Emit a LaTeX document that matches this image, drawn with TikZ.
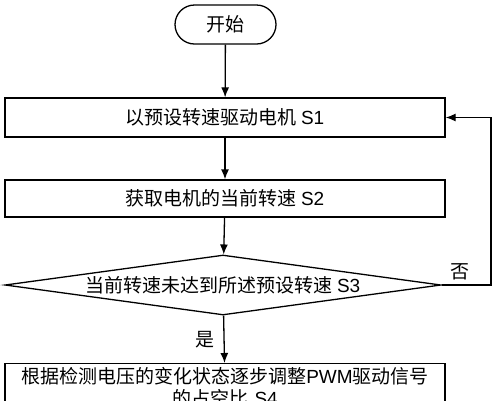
\documentclass[tikz,border=0pt]{standalone}
\usepackage{fontspec}
\setmainfont{Liberation Sans}
\newfontfamily\cjk{Noto Sans CJK SC}
\usepackage{tikz}
\usetikzlibrary{shapes.geometric,arrows.meta,positioning}

\begin{document}
\begin{tikzpicture}[x=1pt, y=1pt, line width=1.3pt,
    stepbox/.style={rectangle, draw, minimum width=440pt, inner sep=0pt, font=\fontsize{19}{22}\selectfont},
    startbox/.style={rectangle, draw, rounded corners=19.5pt, minimum width=101pt, minimum height=39pt, font=\fontsize{19}{22}\selectfont},
    decision/.style={diamond, draw, shape aspect=7.27, inner sep=0pt, minimum width=436pt, minimum height=60pt, font=\fontsize{19}{22}\selectfont},
    flow/.style={-{Latex[length=10pt, width=8pt]}}]
\useasboundingbox (0,0) rectangle (497,-400);
% Flow chart steps
\node[startbox] at (225.5,-24.5) (start) {\cjk 开始};
\node[stepbox, minimum height=39pt] at (225,-117.5) (s1) {\cjk 以预设转速驱动电机 \rmfamily S1};
\node[stepbox, minimum height=37pt] at (225,-198.5) (s2) {\cjk 获取电机的当前转速 \rmfamily S2};
\node[decision] at (223,-285) (s3) {\cjk 当前转速未达到所述预设转速 \rmfamily S3};
\node[stepbox, anchor=north, text width=430pt, align=center, inner ysep=4pt] at (225,-363) (s4)
    {\cjk 根据检测电压的变化状态逐步调整\rmfamily PWM\cjk 驱动信号\\的占空比 \rmfamily S4};
% Draw connections
\foreach \from/\to in {start/s1, s1/s2, s2/s3} {
    \draw[flow] (\from) -- (\to);
}
\draw[flow] (s3) -- node[left=6pt, font=\fontsize{19}{22}\selectfont\cjk] (yes) {是} (s4);
\coordinate (back) at (491,-285);
\draw[flow] (s3.east) -- (back) |- (s1.east);
\node[font=\fontsize{19}{22}\selectfont\cjk] at (460,-272) (no) {否};
\end{tikzpicture}
\end{document}
